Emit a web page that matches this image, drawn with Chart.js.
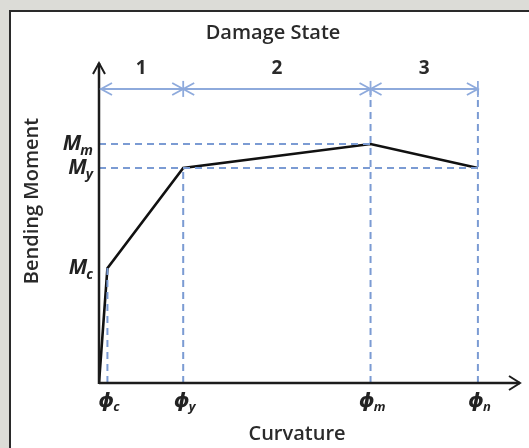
<!doctype html>
<html>
<head>
<title>Moment-Curvature Backbone</title>
<script src="https://cdn.jsdelivr.net/npm/chart.js@4.4.0/dist/chart.umd.min.js"></script>
<style>
body { margin: 0; background: #dcdcd7; overflow: hidden; }
#frame {
  position: absolute; left: 9px; top: 10px; width: 600px; height: 500px;
  background: #fff; border-left: 2px solid #2a2a2a; border-top: 2px solid #2a2a2a;
}
#wrap { position: absolute; left: 0; top: 0; width: 529px; height: 448px; }
</style>
</head>
<body>
<div id="frame"></div>
<div id="wrap"><canvas id="mk" width="529" height="448"></canvas></div>
<script>
// backbone points: origin, cracking, yield, max, ultimate
const curvature = [0, 0.2, 2.0, 6.45, 9.0];
const moment = [0, 3.59, 6.72, 7.47, 6.72];

// axis marks
const curvatureTicks = [0.2, 2.0, 6.45, 9.0];
const curvatureSubs = ['c', 'y', 'm', 'n'];
const momentTicks = [3.59, 6.72, 7.47];
const momentSubs = ['c', 'y', 'm'];

// damage state bands along the top
const damageStates = ['1', '2', '3'];
const damageBounds = [0, 2.0, 6.45, 9.0];
const damageLevel = 9.19;

const axisMax = 10;

const BLUE = '#7b9bd3';
const BLUE_LINE = '#8eaadc';
const INK = '#1c1c1c';
const FONT = '"Open Sans", "DejaVu Sans", sans-serif';

const backbone = curvature.map((x, i) => ({ x: x, y: moment[i] }));

function seg(x1, y1, x2, y2, dashed) {
  return {
    data: [{ x: x1, y: y1 }, { x: x2, y: y2 }],
    showLine: true,
    borderColor: dashed ? BLUE : BLUE_LINE,
    borderWidth: 2,
    borderDash: dashed ? [7, 5] : [],
    pointRadius: 0
  };
}

// dashed guides: verticals from each curvature mark, horizontals from My and Mm
const guideTops = [moment[1], moment[2], damageLevel, damageLevel];
const guides = curvatureTicks.map((c, i) => seg(c, 0, c, guideTops[i], true));
guides.push(seg(0, moment[3], curvature[3], moment[3], true));
guides.push(seg(0, moment[2], curvature[4], moment[2], true));

const damageLine = seg(damageBounds[0], damageLevel, damageBounds[3], damageLevel, false);

function chevron(ctx, x, y, dir, len, half) {
  // open arrowhead, tip at (x,y); dir: 'l','r','u'
  ctx.beginPath();
  if (dir === 'r') { ctx.moveTo(x - len, y - half); ctx.lineTo(x, y); ctx.lineTo(x - len, y + half); }
  if (dir === 'l') { ctx.moveTo(x + len, y - half); ctx.lineTo(x, y); ctx.lineTo(x + len, y + half); }
  if (dir === 'u') { ctx.moveTo(x - half, y + len); ctx.lineTo(x, y); ctx.lineTo(x + half, y + len); }
  ctx.stroke();
}

function subLabel(ctx, main, sub, x, y, size, align) {
  const mainFont = 'italic bold ' + size + 'px ' + FONT;
  const subFont = 'italic bold ' + Math.round(size * 0.66) + 'px ' + FONT;
  ctx.font = mainFont;
  const w1 = ctx.measureText(main).width;
  ctx.font = subFont;
  const w2 = ctx.measureText(sub).width;
  const total = w1 + w2;
  let left = x;
  if (align === 'right') left = x - total;
  if (align === 'center') left = x - total / 2;
  ctx.textAlign = 'left';
  ctx.textBaseline = 'alphabetic';
  ctx.font = mainFont;
  ctx.fillText(main, left, y);
  ctx.font = subFont;
  ctx.fillText(sub, left + w1 - 1, y + size * 0.22);
}

const decorations = {
  id: 'decorations',
  afterDraw(chart) {
    const ctx = chart.ctx;
    const xs = chart.scales.x, ys = chart.scales.y;
    const x0 = xs.getPixelForValue(0), y0 = ys.getPixelForValue(0);
    const xEnd = xs.getPixelForValue(axisMax), yEnd = ys.getPixelForValue(axisMax);
    ctx.save();

    // axes with arrowheads
    ctx.strokeStyle = INK;
    ctx.lineWidth = 2.5;
    ctx.lineCap = 'butt';
    ctx.beginPath();
    ctx.moveTo(x0, y0); ctx.lineTo(xEnd, y0);
    ctx.moveTo(x0, y0 + 1); ctx.lineTo(x0, yEnd);
    ctx.stroke();
    ctx.lineWidth = 2;
    chevron(ctx, xEnd, y0, 'r', 11, 7);
    chevron(ctx, x0, yEnd, 'u', 11, 6);

    // damage state arrows and separators
    const yd = ys.getPixelForValue(damageLevel);
    ctx.strokeStyle = BLUE_LINE;
    ctx.lineWidth = 1.8;
    damageBounds.forEach((b, i) => {
      const px = xs.getPixelForValue(b);
      if (i > 0) {
        chevron(ctx, px, yd, 'r', 11, 6);
        ctx.beginPath(); ctx.moveTo(px, yd - 8); ctx.lineTo(px, yd + 8); ctx.stroke();
      }
      if (i < damageBounds.length - 1) chevron(ctx, px + (i === 0 ? 2 : 0), yd, 'l', 11, 6);
    });

    ctx.fillStyle = '#2a2a2a';
    ctx.textAlign = 'center';
    ctx.textBaseline = 'middle';
    ctx.font = 'bold 19px ' + FONT;
    damageStates.forEach((s, i) => {
      const mid = (xs.getPixelForValue(damageBounds[i]) + xs.getPixelForValue(damageBounds[i + 1])) / 2;
      ctx.fillText(s, mid, yd - 20);
    });

    // titles
    ctx.font = '600 20px ' + FONT;
    ctx.fillText('Damage State', 273, 33);
    ctx.fillText('Curvature', 297, 434);
    ctx.save();
    ctx.translate(32, 201);
    ctx.rotate(-Math.PI / 2);
    ctx.fillText('Bending Moment', 0, 0);
    ctx.restore();

    // tick labels
    ctx.fillStyle = '#222';
    momentTicks.forEach((m, i) => {
      subLabel(ctx, 'M', momentSubs[i], 94, ys.getPixelForValue(m) + 6, 21, 'right');
    });
    curvatureTicks.forEach((c, i) => {
      subLabel(ctx, '\u03D5', curvatureSubs[i], xs.getPixelForValue(c) + 2, y0 + 24, 20, 'center');
    });

    ctx.restore();
  }
};

new Chart(document.getElementById('mk'), {
  type: 'scatter',
  data: {
    datasets: [
      ...guides,
      damageLine,
      {
        data: backbone,
        showLine: true,
        borderColor: '#111',
        borderWidth: 2.6,
        pointRadius: 0,
        tension: 0
      }
    ]
  },
  options: {
    responsive: false,
    animation: false,
    layout: { padding: { left: 99, right: 9, top: 63, bottom: 65 } },
    scales: {
      x: { type: 'linear', min: 0, max: axisMax, display: false },
      y: { type: 'linear', min: 0, max: axisMax, display: false }
    },
    plugins: { legend: { display: false }, tooltip: { enabled: false } }
  },
  plugins: [decorations]
});
</script>
</body>
</html>
